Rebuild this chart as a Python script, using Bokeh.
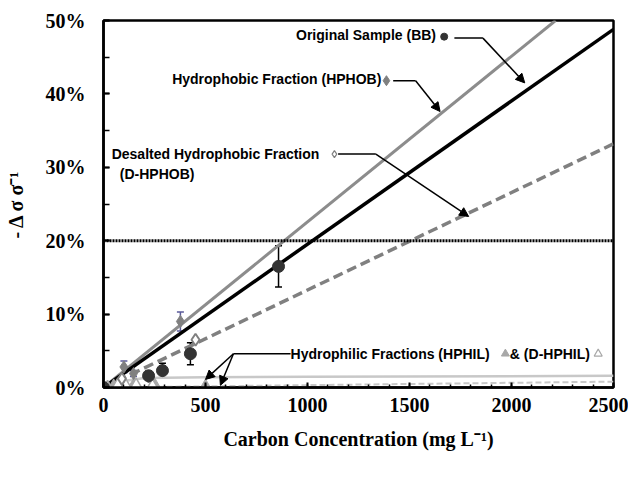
from bokeh.plotting import figure
from bokeh.models import (Range1d, Span, Whisker, ColumnDataSource, Label, Arrow,
                          NormalHead, TeeHead, NumeralTickFormatter, FixedTicker)
from bokeh.embed import file_html
from bokeh.resources import INLINE

# ---------------- data ----------------
bb_x = [0, 221, 289, 426, 858]
bb_y = [0.000, 0.016, 0.023, 0.046, 0.165]
bb_err = [0.002, 0.006, 0.010, 0.015, 0.028]

hphob_x = [0, 100, 147, 377]
hphob_y = [0.000, 0.028, 0.019, 0.090]
hphob_err = [0.002, 0.008, 0.004, 0.013]

dhphob_x = [0, 90, 221, 451]
dhphob_y = [0.000, 0.012, 0.015, 0.065]

hphil_x = [0, 50, 100, 150, 250, 500]
hphil_y = [0.002, 0.003, 0.005, 0.005, 0.005, 0.003]
dhphil_x = [20, 70, 110, 160, 240]
dhphil_y = [0.001, 0.004, 0.003, 0.004, 0.003]

bb_fit_x = [0, 2500]; bb_fit_y = [0.0, 0.488]
hphob_fit_x = [0, 2216]; hphob_fit_y = [0.0, 0.50]
dhphob_fit_x = [0, 2500]; dhphob_fit_y = [0.0, 0.332]
hphil_fit_x = [0, 100, 200, 500, 1000, 2500]
hphil_fit_y = [0.0, 0.009, 0.013, 0.014, 0.0145, 0.016]
dhphil_fit_x = [0, 2500]; dhphil_fit_y = [0.0, 0.008]

threshold = 0.20
x_ticks = [0, 500, 1000, 1500, 2000, 2500]
y_ticks = [0.0, 0.1, 0.2, 0.3, 0.4, 0.5]

p = figure(width=628, height=477, output_backend="svg", toolbar_location=None,
           x_range=Range1d(0, 2500), y_range=Range1d(0, 0.5),
           min_border_left=103, min_border_right=15, min_border_top=20, min_border_bottom=90)
p.background_fill_color = "white"
p.border_fill_color = "white"
p.outline_line_color = "black"
p.outline_line_width = 2.5
p.grid.visible = False

for ax in (p.xaxis[0], p.yaxis[0]):
    ax.axis_line_width = 2.5
    ax.major_tick_line_width = 2
    ax.minor_tick_line_width = 1.5
    ax.major_tick_out = 0
    ax.minor_tick_out = 0
    ax.major_label_text_font = "Liberation Serif"
    ax.major_label_text_font_style = "bold"
    ax.major_label_text_font_size = "20px"
    ax.major_label_text_color = "black"
    ax.axis_label_text_font = "Liberation Serif"
    ax.axis_label_text_font_style = "bold"
    ax.axis_label_text_font_size = "20px"
    ax.axis_label_text_color = "black"

p.xaxis.ticker = FixedTicker(ticks=x_ticks, minor_ticks=list(range(0, 2501, 100)))
p.yaxis.ticker = FixedTicker(ticks=y_ticks, minor_ticks=[i * 0.05 for i in range(11)])
p.xaxis.major_tick_in = 5
p.xaxis.minor_tick_in = 3
p.yaxis.major_tick_in = 6
p.yaxis.minor_tick_in = 6
p.yaxis.formatter = NumeralTickFormatter(format="0%")
p.xaxis.major_label_standoff = 10
p.yaxis.major_label_standoff = 18
p.xaxis.axis_label = "Carbon Concentration (mg L\u207b\u00b9)"
p.xaxis.axis_label_standoff = 13
p.yaxis.axis_label = "- \u0394 \u03c3 \u03c3\u207b\u00b9"
p.yaxis.axis_label_standoff = 16

# threshold line
p.add_layout(Span(location=threshold, dimension="width", line_color="black",
                  line_width=3, line_dash="2 1"))

# fit lines
p.line(hphil_fit_x, hphil_fit_y, line_color="#c8c8c8", line_width=2.5)
p.line(dhphil_fit_x, dhphil_fit_y, line_color="#c8c8c8", line_width=2, line_dash="6 3")
p.line(dhphob_fit_x, dhphob_fit_y, line_color="#808080", line_width=3.5, line_dash="10 5")
p.line(hphob_fit_x, hphob_fit_y, line_color="#8c8c8c", line_width=3)
p.line(bb_fit_x, bb_fit_y, line_color="black", line_width=3.5)

# error bars
bbs = ColumnDataSource(dict(x=bb_x, y=bb_y, lo=[a - b for a, b in zip(bb_y, bb_err)],
                            hi=[a + b for a, b in zip(bb_y, bb_err)]))
p.add_layout(Whisker(source=bbs, base="x", lower="lo", upper="hi", line_color="black",
                     line_width=1.5,
                     upper_head=TeeHead(size=7, line_color="black", line_width=1.5),
                     lower_head=TeeHead(size=7, line_color="black", line_width=1.5)))
hps = ColumnDataSource(dict(x=hphob_x, y=hphob_y, lo=[a - b for a, b in zip(hphob_y, hphob_err)],
                            hi=[a + b for a, b in zip(hphob_y, hphob_err)]))
p.add_layout(Whisker(source=hps, base="x", lower="lo", upper="hi", line_color="#5a5a9a",
                     line_width=1.5,
                     upper_head=TeeHead(size=7, line_color="#5a5a9a", line_width=1.5),
                     lower_head=TeeHead(size=7, line_color="#5a5a9a", line_width=1.5)))

# points
p.scatter(hphil_x, hphil_y, marker="triangle", size=11, fill_color="#a8a8a8", line_color="#a8a8a8")
p.scatter(dhphil_x, dhphil_y, marker="triangle", size=11, fill_color="white", line_color="#a8a8a8", line_width=1.5)
p.scatter(dhphob_x, dhphob_y, marker="diamond", size=12, fill_color="white", line_color="#808080", line_width=2)
p.scatter(hphob_x, hphob_y, marker="diamond", size=12, fill_color="#808080", line_color="#808080")
p.scatter(bb_x, bb_y, marker="circle", size=12, fill_color="#333333", line_color="#333333")

# annotations
def lab(x, y, t, align="left"):
    p.add_layout(Label(x=x, y=y, text=t, text_font="Liberation Sans", text_font_style="bold",
                       text_font_size="14px", text_color="black", text_align=align,
                       text_baseline="middle"))

def arrow(x0, y0, x1, y1):
    p.add_layout(Arrow(x_start=x0, y_start=y0, x_end=x1, y_end=y1, line_width=1.5,
                       end=NormalHead(size=9, fill_color="black", line_color="black")))

lab(1630, 0.480, "Original Sample (BB)", "right")
p.scatter([1670], [0.478], marker="circle", size=7, fill_color="#333333", line_color="#333333")
p.line([1720, 1860], [0.476, 0.476], line_color="black", line_width=1.5)
arrow(1860, 0.476, 2065, 0.415)

lab(1362, 0.420, "Hydrophobic Fraction (HPHOB)", "right")
p.scatter([1387], [0.418], marker="diamond", size=10, fill_color="#808080", line_color="#808080")
p.line([1420, 1530], [0.418, 0.418], line_color="black", line_width=1.5)
arrow(1530, 0.418, 1650, 0.376)

lab(40, 0.318, "Desalted Hydrophobic Fraction")
p.scatter([1132], [0.318], marker="diamond", size=7, fill_color="white", line_color="#808080", line_width=1.2)
p.line([1150, 1335], [0.318, 0.318], line_color="black", line_width=1.5)
arrow(1335, 0.318, 1790, 0.233)
lab(80, 0.291, "(D-HPHOB)")

lab(917, 0.046, "Hydrophilic Fractions (HPHIL)")
p.scatter([1970], [0.046], marker="triangle", size=8, fill_color="#a8a8a8", line_color="#a8a8a8")
lab(1992, 0.046, "& (D-HPHIL)")
p.scatter([2425], [0.046], marker="triangle", size=8, fill_color="white", line_color="#a8a8a8", line_width=1.2)
p.line([637, 917], [0.046, 0.046], line_color="black", line_width=1.5)
arrow(637, 0.046, 500, 0.011)
arrow(637, 0.046, 573, 0.003)

open("out.html", "w").write(file_html(p, INLINE))
